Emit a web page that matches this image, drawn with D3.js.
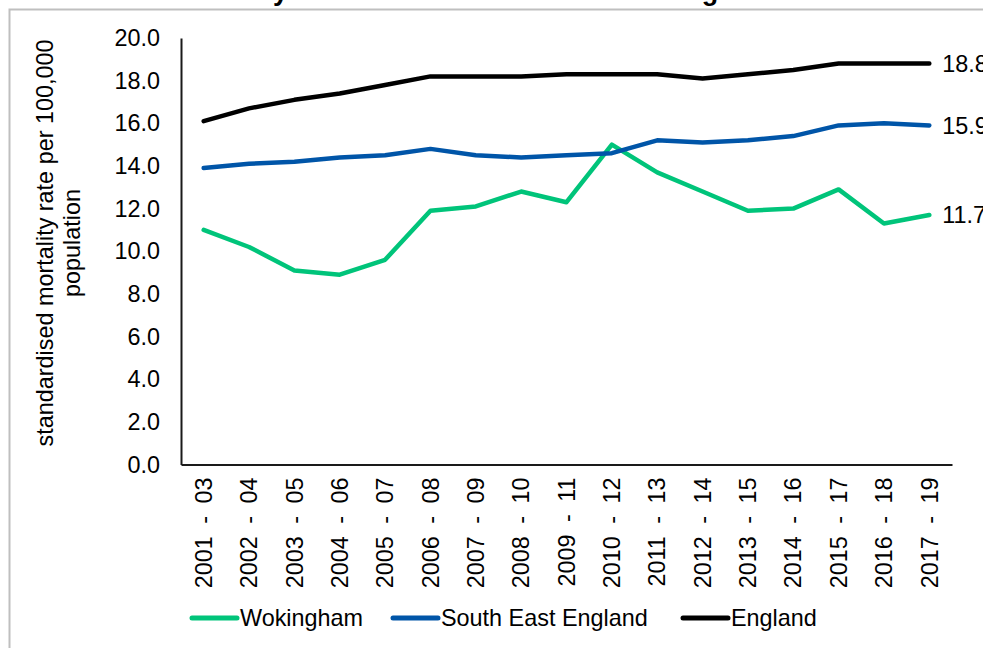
<!DOCTYPE html>
<html>
<head>
<meta charset="utf-8">
<script src="https://cdn.jsdelivr.net/npm/d3@7"></script>
<style>
  html, body { margin: 0; padding: 0; background: #fff; }
  svg { display: block; font-family: "Liberation Sans", Arial, sans-serif; }
</style>
</head>
<body>
<svg id="chart" width="983" height="648"></svg>
<script>
const categories = ["2001 - 03","2002 - 04","2003 - 05","2004 - 06","2005 - 07","2006 - 08","2007 - 09","2008 - 10","2009 - 11","2010 - 12","2011 - 13","2012 - 14","2013 - 15","2014 - 16","2015 - 17","2016 - 18","2017 - 19"];
const wokingham = [11.0,10.2,9.1,8.9,9.6,11.9,12.1,12.8,12.3,15.0,13.7,12.8,11.9,12.0,12.9,11.3,11.7];
const southEast = [13.9,14.1,14.2,14.4,14.5,14.8,14.5,14.4,14.5,14.6,15.2,15.1,15.2,15.4,15.9,16.0,15.9];
const england   = [16.1,16.7,17.1,17.4,17.8,18.2,18.2,18.2,18.3,18.3,18.3,18.1,18.3,18.5,18.8,18.8,18.8];
const yTicks = [0,2,4,6,8,10,12,14,16,18,20];
const seriesNames = ["Wokingham","South East England","England"];
const seriesColors = ["#00C47A","#0055A8","#000000"];
const titleText = "Under 75 mortality rate from liver disease in Wokingham";
const yLabelLines = ["standardised mortality rate per 100,000","population"];

const series = [wokingham, southEast, england];
const svg = d3.select("#chart");
const FS = 23.4;

// outer frame
svg.append("rect").attr("x",9.5).attr("y",9.5).attr("width",1200).attr("height",1200)
  .attr("fill","none").attr("stroke","#bfbfbf").attr("stroke-width",2);

// clipped title
svg.append("text").attr("x",51).attr("y",-0.5)
  .attr("font-size",27).attr("font-weight","bold").attr("fill","#000")
  .text(titleText);

const x = d3.scaleBand().domain(categories).range([181, 952]);
const y = d3.scaleLinear().domain([0,20]).range([464.5, 38]);

// y axis
const yAxis = svg.append("g").attr("transform","translate(181,0)")
  .call(d3.axisLeft(y).tickValues(yTicks).tickFormat(d3.format(".1f")).tickSize(0).tickPadding(21));
yAxis.select(".domain").attr("stroke","#1a1a1a").attr("stroke-width",2);
yAxis.selectAll("text").attr("font-size",FS).attr("fill","#000").attr("font-family","Liberation Sans, Arial, sans-serif");

// x axis
const xAxis = svg.append("g").attr("transform","translate(0,464.5)")
  .call(d3.axisBottom(x).tickSize(0).tickPadding(0));
xAxis.select(".domain").attr("stroke","#1a1a1a").attr("stroke-width",2);
xAxis.selectAll("text")
  .attr("font-size",FS).attr("fill","#000").attr("font-family","Liberation Sans, Arial, sans-serif")
  .attr("word-spacing","6px")
  .attr("transform","rotate(-90)")
  .attr("text-anchor","end")
  .attr("x",-13).attr("y",0).attr("dy","0.35em");

// y label
yLabelLines.forEach((t,i) => {
  svg.append("text")
    .attr("transform",`translate(${45 + i*27},243) rotate(-90)`)
    .attr("text-anchor","middle").attr("dy","0.35em")
    .attr("font-size",FS).attr("fill","#000")
    .text(t);
});

// lines
const line = d3.line().x((d,i) => x(categories[i]) + x.bandwidth()/2).y(d => y(d));
series.forEach((s,k) => {
  svg.append("path").datum(s).attr("d",line)
    .attr("fill","none").attr("stroke",seriesColors[k]).attr("stroke-width",4.5)
    .attr("stroke-linejoin","round").attr("stroke-linecap","round");
});

// end labels
[england, southEast, wokingham].forEach(s => {
  const last = s[s.length-1];
  svg.append("text")
    .attr("x", x(categories[categories.length-1]) + x.bandwidth()/2 + 13)
    .attr("y", y(last)).attr("dy","0.35em")
    .attr("font-size",FS).attr("fill","#000")
    .text(d3.format(".1f")(last));
});

// legend
const legendX = [192, 393, 683];
seriesNames.forEach((n,k) => {
  const g = svg.append("g").attr("transform",`translate(${legendX[k]},618)`);
  g.append("line").attr("x1",0).attr("x2",45).attr("y1",0).attr("y2",0)
    .attr("stroke",seriesColors[k]).attr("stroke-width",5).attr("stroke-linecap","round");
  g.append("text").attr("x",48).attr("y",0).attr("dy","0.35em")
    .attr("font-size",FS).attr("fill","#000").text(n);
});
</script>
</body>
</html>
